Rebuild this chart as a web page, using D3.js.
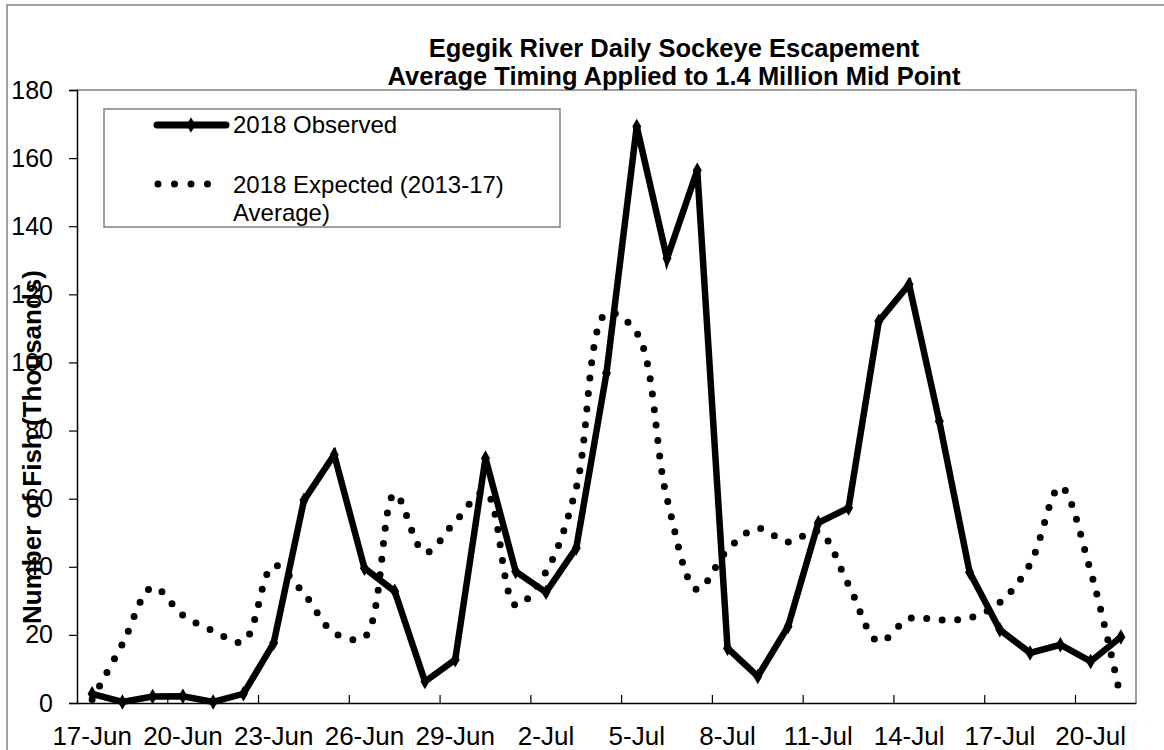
<!DOCTYPE html>
<html>
<head>
<meta charset="utf-8">
<script src="https://cdn.jsdelivr.net/npm/d3@7"></script>
<style>
  body { margin: 0; background: white; }
  text { font-family: Arial, "Liberation Sans", sans-serif; }
</style>
</head>
<body>
<div id="chart"></div>
<script>
// daily categories, 17-Jun to 21-Jul
const days = ['17-Jun','18-Jun','19-Jun','20-Jun','21-Jun','22-Jun','23-Jun','24-Jun','25-Jun','26-Jun',
  '27-Jun','28-Jun','29-Jun','30-Jun','1-Jul','2-Jul','3-Jul','4-Jul','5-Jul','6-Jul','7-Jul','8-Jul',
  '9-Jul','10-Jul','11-Jul','12-Jul','13-Jul','14-Jul','15-Jul','16-Jul','17-Jul','18-Jul','19-Jul',
  '20-Jul','21-Jul']

// thousands of fish
const observed = [2.7, 0.3, 1.9, 2.0, 0.3, 2.7, 17.6, 59.5, 72.9, 39.6, 32.8, 6.3, 12.7, 71.9, 38.6,
  32.5, 45.5, 96.9, 169.3, 130.5, 156.4, 16.1, 7.8, 22.5, 52.9, 57.3, 112.1, 122.9, 82.7, 38.4, 21.5,
  14.7, 17.1, 12.2, 19.4]
const expected = [1.0, 17.3, 34.0, 25.8, 21.2, 18.0, 40.4, 32.1, 20.6, 19.3, 61.4, 44.2, 53.3, 62.0, 28.7,
  38.5, 63.2, 114.5, 108.7, 60.0, 33.3, 45.0, 51.3, 47.3, 50.4, 34.7, 18.0, 24.8, 24.4, 25.0, 29.5,
  40.8, 63.5, 38.7, 1.3]

const yTicks = [0, 20, 40, 60, 80, 100, 120, 140, 160, 180]
const titleLines = ['Egegik River Daily Sockeye Escapement', 'Average Timing Applied to 1.4 Million Mid Point']
const seriesNames = ['2018 Observed', '2018 Expected (2013-17)', 'Average)']

const width = 1164
const height = 750
const plot = { left: 77, right: 1136, top: 90, bottom: 703 }

const svg = d3.select('#chart').append('svg')
  .attr('width', width)
  .attr('height', height)

// outer chart frame
svg.append('rect')
  .attr('x', 7).attr('y', 5)
  .attr('width', width + 20).attr('height', height + 20)
  .attr('fill', 'white')
  .attr('stroke', '#808080')
  .attr('stroke-width', 1.5)

const x = d3.scaleBand()
  .domain(days)
  .range([plot.left, plot.right])
  .paddingInner(0).paddingOuter(0)
const cx = d => x(d) + x.bandwidth() / 2

const y = d3.scaleLinear()
  .domain([0, 180])
  .range([plot.bottom, plot.top])

// plot frame top / right
svg.append('path')
  .attr('d', `M${plot.left},${plot.top}H${plot.right}V${plot.bottom}`)
  .attr('fill', 'none')
  .attr('stroke', '#808080')
  .attr('stroke-width', 1.5)

// y axis
const yAxis = svg.append('g')
  .attr('transform', `translate(${plot.left},0)`)
  .call(d3.axisLeft(y).tickValues(yTicks).tickSize(8).tickPadding(16))
yAxis.select('.domain').attr('stroke', 'black').attr('stroke-width', 1.5)
yAxis.selectAll('.tick line').attr('stroke', 'black').attr('stroke-width', 1.2)
yAxis.selectAll('.tick text')
  .attr('font-size', 25)
  .attr('font-family', 'Arial, "Liberation Sans", sans-serif')
  .attr('fill', 'black')

// x axis: labels every 3rd day, ticks between categories pointing inwards
const labelDays = days.filter((d, i) => i % 3 === 0)
const xAxis = svg.append('g')
  .attr('transform', `translate(0,${plot.bottom})`)
  .call(d3.axisBottom(x).tickValues(labelDays).tickSize(0).tickPadding(24))
xAxis.select('.domain').attr('stroke', 'black').attr('stroke-width', 1.5)
xAxis.selectAll('.tick text')
  .attr('font-size', 26)
  .attr('font-family', 'Arial, "Liberation Sans", sans-serif')
  .attr('fill', 'black')

svg.append('g').selectAll('line')
  .data(labelDays.slice(1))
  .join('line')
  .attr('x1', d => x(d)).attr('x2', d => x(d))
  .attr('y1', plot.bottom).attr('y2', plot.bottom - 8)
  .attr('stroke', 'black')
  .attr('stroke-width', 1.2)

// expected (dotted, smoothed)
const lineExp = d3.line()
  .x((d, i) => cx(days[i]))
  .y(d => y(d))
  .curve(d3.curveCatmullRom.alpha(0.5))

const expPath = svg.append('path')
  .datum(expected)
  .attr('d', lineExp)
  .attr('fill', 'none')
  .attr('stroke', 'black')
  .attr('stroke-width', 7)
  .attr('stroke-linecap', 'round')

// spread the dots so there is one at each end
const expLen = expPath.node().getTotalLength()
const gap = (expLen - 0.5) / Math.round(expLen / 15.5)
expPath.attr('stroke-dasharray', `0 ${gap}`)

// observed (thick solid with diamonds)
const lineObs = d3.line()
  .x((d, i) => cx(days[i]))
  .y(d => y(d))

svg.append('path')
  .datum(observed)
  .attr('d', lineObs)
  .attr('fill', 'none')
  .attr('stroke', 'black')
  .attr('stroke-width', 6.5)
  .attr('stroke-linejoin', 'miter')

const diamond = d3.symbol().type(d3.symbolDiamond).size(70)
svg.append('g').selectAll('path')
  .data(observed)
  .join('path')
  .attr('transform', (d, i) => `translate(${cx(days[i])},${y(d)})`)
  .attr('d', diamond)
  .attr('fill', 'black')

// title
svg.append('g').selectAll('text')
  .data(titleLines)
  .join('text')
  .attr('x', 674)
  .attr('y', (d, i) => 57 + i * 28)
  .attr('text-anchor', 'middle')
  .attr('font-size', 25.5)
  .attr('font-weight', 'bold')
  .text(d => d)

// y axis title
svg.append('text')
  .attr('transform', 'translate(41,447) rotate(-90)')
  .attr('text-anchor', 'middle')
  .attr('font-size', 26)
  .attr('font-weight', 'bold')
  .text('Number of Fish (Thousands)')

// legend
const legend = svg.append('g')
legend.append('rect')
  .attr('x', 104).attr('y', 109)
  .attr('width', 456).attr('height', 118)
  .attr('fill', 'white')
  .attr('stroke', '#808080')
  .attr('stroke-width', 1.5)

legend.append('line')
  .attr('x1', 157).attr('x2', 226)
  .attr('y1', 125).attr('y2', 125)
  .attr('stroke', 'black')
  .attr('stroke-width', 7)
  .attr('stroke-linecap', 'round')
legend.append('path')
  .attr('transform', 'translate(191,125)')
  .attr('d', diamond)
  .attr('fill', 'black')

legend.append('line')
  .attr('x1', 158).attr('x2', 224)
  .attr('y1', 184).attr('y2', 184)
  .attr('stroke', 'black')
  .attr('stroke-width', 7)
  .attr('stroke-linecap', 'round')
  .attr('stroke-dasharray', '0 16.5')

legend.selectAll('text')
  .data(seriesNames)
  .join('text')
  .attr('x', 233)
  .attr('y', (d, i) => [133, 193, 221][i])
  .attr('font-size', 24)
  .text(d => d)
</script>
</body>
</html>
